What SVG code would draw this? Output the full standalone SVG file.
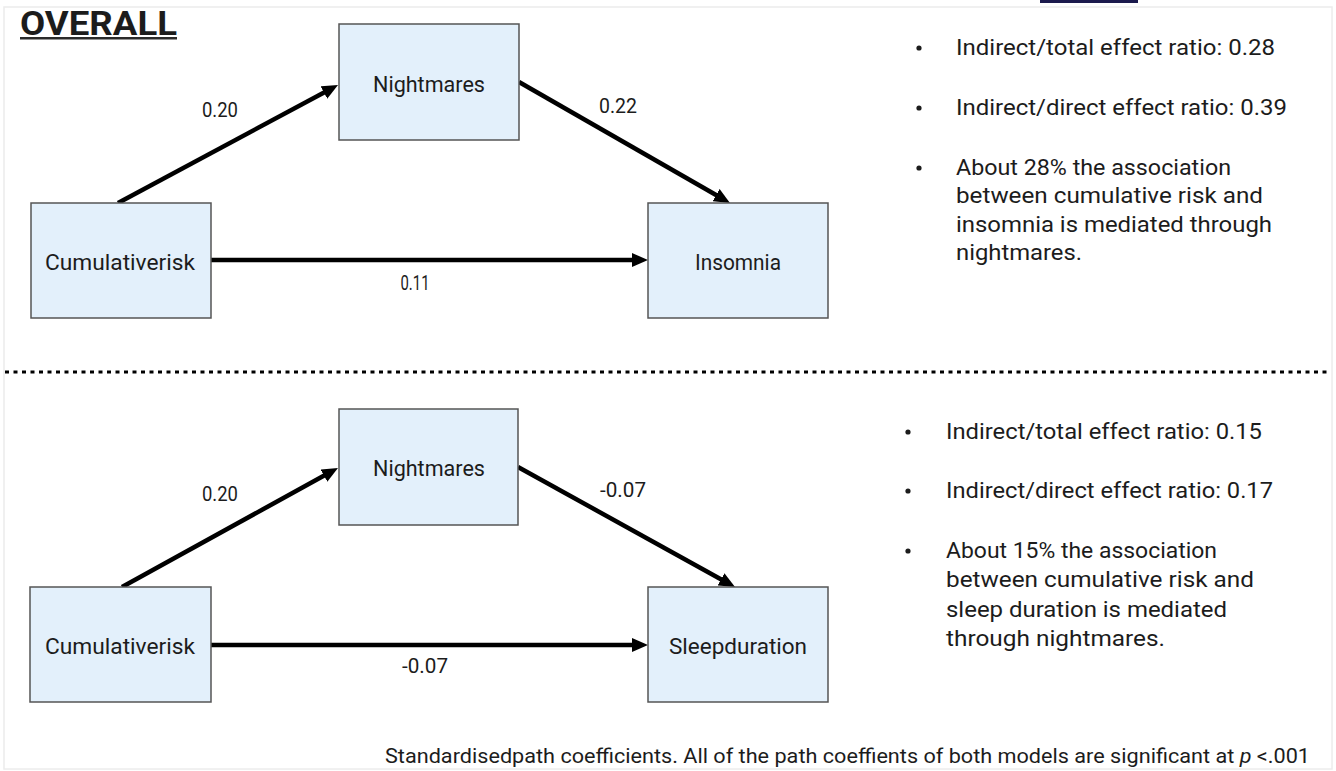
<svg xmlns="http://www.w3.org/2000/svg" width="1336" height="771" viewBox="0 0 1336 771">
<style>
text{font-family:Roboto,"Liberation Sans",sans-serif;fill:#1c1c1c}
.box{fill:#e3f0fb;stroke:#555;stroke-width:1.5}
.nl{font-size:22px;text-anchor:middle}
.cl{font-size:21px;text-anchor:middle}
.rt{font-size:22.5px}
.ft{font-size:20.5px}
.edge{stroke:#000;stroke-width:4.5;fill:none;marker-end:url(#ah)}
</style>
<defs>
<marker id="ah" markerUnits="userSpaceOnUse" markerWidth="16" markerHeight="14" refX="6" refY="7" orient="auto">
<path d="M0,0 L16,7 L0,14 z" fill="#000"/>
</marker>
</defs>
<rect x="0" y="0" width="1336" height="771" fill="#fff"/>
<rect x="4" y="7" width="1328" height="762" fill="none" stroke="#ececec" stroke-width="1.5"/>
<rect x="1040" y="0" width="98" height="3" fill="#1b1a4d"/>

<g id="title">
<text x="20" y="35" font-size="33" font-weight="bold" fill="#2a2a2a" textLength="157" lengthAdjust="spacingAndGlyphs">OVERALL</text>
<rect x="20" y="37" width="157" height="2.5" fill="#2a2a2a"/>
</g>

<g id="connectors">
<path class="edge" d="M118,203 L329.2,89.7"/>
<path class="edge" d="M519,82 L721.3,198"/>
<path class="edge" d="M211,260 L638,260"/>
<path class="edge" d="M122,587 L329.2,472.8"/>
<path class="edge" d="M518,467 L726.3,582.2"/>
<path class="edge" d="M211,645 L638,645"/>
<text class="cl" x="220" y="117" textLength="36" lengthAdjust="spacingAndGlyphs">0.20</text>
<text class="cl" x="618" y="113" textLength="38" lengthAdjust="spacingAndGlyphs">0.22</text>
<text class="cl" x="415" y="290" textLength="29" lengthAdjust="spacingAndGlyphs">0.11</text>
<text class="cl" x="220" y="501" textLength="36" lengthAdjust="spacingAndGlyphs">0.20</text>
<text class="cl" x="623" y="497" textLength="46" lengthAdjust="spacingAndGlyphs">-0.07</text>
<text class="cl" x="425" y="673" textLength="46" lengthAdjust="spacingAndGlyphs">-0.07</text>
</g>

<g id="top-nightmares">
<rect class="box" x="339" y="24" width="180" height="116"/>
<text class="nl" x="429" y="92" textLength="112" lengthAdjust="spacingAndGlyphs">Nightmares</text>
</g>
<g id="top-cumulative">
<rect class="box" x="31" y="203" width="180" height="115"/>
<text class="nl" x="120" y="270" textLength="150" lengthAdjust="spacingAndGlyphs">Cumulativerisk</text>
</g>
<g id="top-insomnia">
<rect class="box" x="648" y="203" width="180" height="115"/>
<text class="nl" x="738" y="270" textLength="86" lengthAdjust="spacingAndGlyphs">Insomnia</text>
</g>

<g id="top-notes">
<circle cx="919" cy="48" r="2.6" fill="#1c1c1c"/>
<circle cx="919" cy="108" r="2.6" fill="#1c1c1c"/>
<circle cx="919" cy="168" r="2.6" fill="#1c1c1c"/>
<text class="rt" x="956" y="55" textLength="319" lengthAdjust="spacingAndGlyphs">Indirect/total effect ratio: 0.28</text>
<text class="rt" x="956" y="115" textLength="331" lengthAdjust="spacingAndGlyphs">Indirect/direct effect ratio: 0.39</text>
<text class="rt" x="956" y="175" textLength="275" lengthAdjust="spacingAndGlyphs">About 28% the association</text>
<text class="rt" x="956" y="203" textLength="307" lengthAdjust="spacingAndGlyphs">between cumulative risk and</text>
<text class="rt" x="956" y="232" textLength="316" lengthAdjust="spacingAndGlyphs">insomnia is mediated through</text>
<text class="rt" x="956" y="260" textLength="126" lengthAdjust="spacingAndGlyphs">nightmares.</text>
</g>

<g id="divider">
<line x1="5" y1="372" x2="1330" y2="372" stroke="#000" stroke-width="3" stroke-dasharray="4 4.5"/>
</g>

<g id="bottom-nightmares">
<rect class="box" x="339" y="409" width="179" height="116"/>
<text class="nl" x="429" y="476" textLength="112" lengthAdjust="spacingAndGlyphs">Nightmares</text>
</g>
<g id="bottom-cumulative">
<rect class="box" x="30" y="587" width="181" height="115"/>
<text class="nl" x="120" y="654" textLength="150" lengthAdjust="spacingAndGlyphs">Cumulativerisk</text>
</g>
<g id="bottom-sleep">
<rect class="box" x="648" y="587" width="180" height="115"/>
<text class="nl" x="738" y="654" textLength="138" lengthAdjust="spacingAndGlyphs">Sleepduration</text>
</g>

<g id="bottom-notes">
<circle cx="908" cy="432" r="2.6" fill="#1c1c1c"/>
<circle cx="908" cy="491" r="2.6" fill="#1c1c1c"/>
<circle cx="908" cy="551" r="2.6" fill="#1c1c1c"/>
<text class="rt" x="946" y="439" textLength="316" lengthAdjust="spacingAndGlyphs">Indirect/total effect ratio: 0.15</text>
<text class="rt" x="946" y="498" textLength="327" lengthAdjust="spacingAndGlyphs">Indirect/direct effect ratio: 0.17</text>
<text class="rt" x="946" y="558" textLength="271" lengthAdjust="spacingAndGlyphs">About 15% the association</text>
<text class="rt" x="946" y="587" textLength="308" lengthAdjust="spacingAndGlyphs">between cumulative risk and</text>
<text class="rt" x="946" y="617" textLength="281" lengthAdjust="spacingAndGlyphs">sleep duration is mediated</text>
<text class="rt" x="946" y="646" textLength="219" lengthAdjust="spacingAndGlyphs">through nightmares.</text>
</g>

<g id="footer">
<text class="ft" x="385" y="763" textLength="925" lengthAdjust="spacingAndGlyphs">Standardisedpath coefficients. All of the path coeffients of both models are significant at <tspan font-style="italic">p</tspan> &lt;.001</text>
</g>
</svg>
